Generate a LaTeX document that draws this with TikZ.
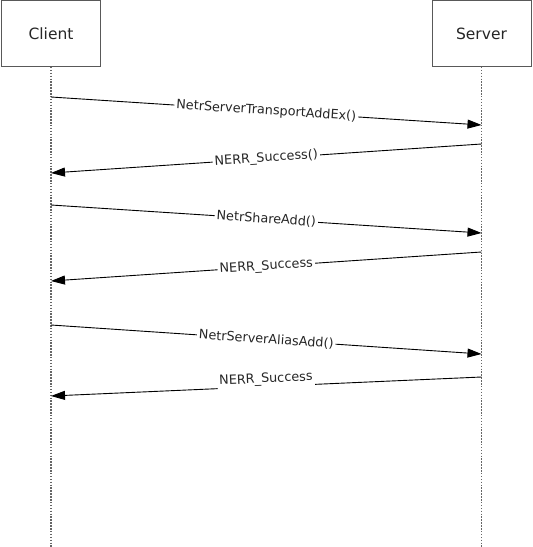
\documentclass[tikz,border=0pt]{standalone}
\usepackage{fontspec}
\setmainfont{DejaVu Sans}
\usepackage{tikz}
\usetikzlibrary{arrows.meta,shadows}

\tikzset{
  actor/.style={draw=black!65, line width=0.9pt, fill=white,
    minimum width=99pt, minimum height=66pt, inner sep=0pt,
    font=\fontsize{15.5}{18}\selectfont, text=black!85,
    drop shadow={shadow xshift=0.8pt, shadow yshift=-0.8pt, fill=black!45, opacity=1}},
  lifeline/.style={draw=black!60, line width=1.7pt, dash pattern=on 1.5pt off 1.4pt},
  msg/.style={draw=black, line width=0.9pt, -{Triangle[length=14pt,width=9pt]}},
  lbl/.style={sloped, fill=white, inner sep=2pt, font=\fontsize{12.8}{15}\selectfont, text=black!85}
}

\begin{document}
\begin{tikzpicture}[x=1pt,y=-1pt]
  \useasboundingbox (0,0) rectangle (533,547);
  % Participants
  \node[actor] (client) at (51,33.5) {Client};
  \node[actor] (server) at (481.5,33.5) {Server};
  % Lifelines
  \coordinate (clientend) at (51,547);
  \coordinate (serverend) at (481.5,547);
  \draw[lifeline] (client.south) -- (clientend);
  \draw[lifeline] (server.south) -- (serverend);
  % Message end points on the lifelines
  \coordinate (c1) at (51,97);   \coordinate (s1) at (481.5,125);
  \coordinate (s2) at (481.5,144); \coordinate (c2) at (51,173);
  \coordinate (c3) at (51,205);  \coordinate (s3) at (481.5,233);
  \coordinate (s4) at (481.5,252); \coordinate (c4) at (51,281);
  \coordinate (c5) at (51,325);  \coordinate (s5) at (481.5,354);
  \coordinate (s6) at (481.5,377); \coordinate (c6) at (51,396);
  % Messages
  \draw[msg] (c1) -- node[lbl] {NetrServerTransportAddEx()} (s1);
  \draw[msg] (s2) -- node[lbl] {NERR\_Success()} (c2);
  \draw[msg] (c3) -- node[lbl] {NetrShareAdd()} (s3);
  \draw[msg] (s4) -- node[lbl] {NERR\_Success} (c4);
  \draw[msg] (c5) -- node[lbl] {NetrServerAliasAdd()} (s5);
  \draw[msg] (s6) -- node[lbl, yshift=7pt] {NERR\_Success} (c6);
\end{tikzpicture}
\end{document}
